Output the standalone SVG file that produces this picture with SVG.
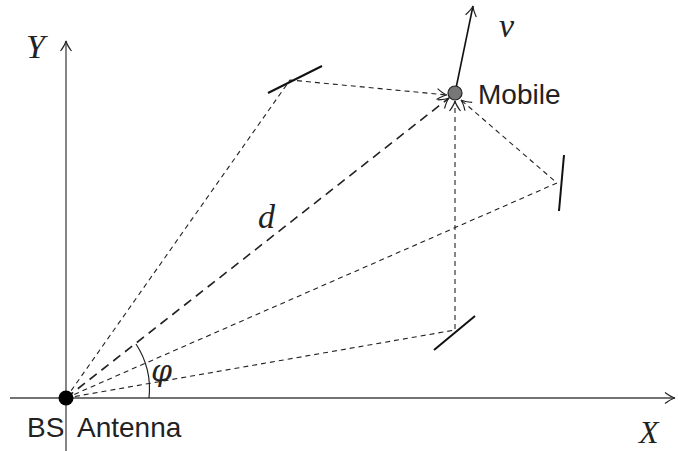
<svg xmlns="http://www.w3.org/2000/svg" width="678" height="451" viewBox="0 0 678 451">
<defs>
<marker id="arr" viewBox="-11 -7 13 14" refX="0" refY="0" markerWidth="13" markerHeight="14" markerUnits="userSpaceOnUse" orient="auto">
<path d="M-10,-5.5 Q-4,-1 0,0 Q-4,1 -10,5.5" fill="none" stroke="#222" stroke-width="1.2"/>
</marker>
</defs>
<style>
.axis{stroke:#444;stroke-width:1.3;fill:none}
.ray{stroke:#222;stroke-width:1.1;fill:none;stroke-dasharray:5 4}
.dray{stroke:#222;stroke-width:1.6;fill:none;stroke-dasharray:9 6}
.refl{stroke:#111;stroke-width:2;fill:none}
.it{font-family:"Liberation Serif",serif;font-style:italic;fill:#222}
.sf{font-family:"Liberation Sans","DejaVu Sans",sans-serif;fill:#222}
</style>
<g id="axes">
<line class="axis" x1="10" y1="398" x2="675" y2="398" marker-end="url(#arr)"/>
<line class="axis" x1="66" y1="451" x2="66" y2="41" marker-end="url(#arr)"/>
<text class="it" x="26" y="58" font-size="34">Y</text>
<text class="it" x="639" y="443" font-size="32">X</text>
</g>
<g id="connectors">
<line class="dray" x1="66" y1="398" x2="449" y2="98" marker-end="url(#arr)"/>
<polyline class="ray" points="66,398 290,80 447,95" marker-end="url(#arr)"/>
<polyline class="ray" points="66,398 557,183 461,100" marker-end="url(#arr)"/>
<polyline class="ray" points="66,398 455,330 455,101" marker-end="url(#arr)"/>
<path d="M149,398 A83,83 0 0 0 136,344" fill="none" stroke="#222" stroke-width="1.2"/>
<line x1="455" y1="93" x2="473" y2="6" stroke="#111" stroke-width="1.6" marker-end="url(#arr)"/>
</g>
<g id="reflector1"><line class="refl" x1="268" y1="93" x2="322" y2="66"/></g>
<g id="reflector2"><line class="refl" x1="564" y1="155" x2="559" y2="211"/></g>
<g id="reflector3"><line class="refl" x1="475" y1="316" x2="434" y2="350"/></g>
<g id="mobile">
<circle cx="455" cy="93" r="7" fill="#777" stroke="#222" stroke-width="1.2"/>
<text class="sf" x="478" y="104" font-size="28">Mobile</text>
<text class="it" x="499" y="37" font-size="34">v</text>
</g>
<g id="bs">
<circle cx="66" cy="398" r="7.5" fill="#000"/>
<text class="sf" x="27" y="437" font-size="28">BS</text>
<text class="sf" x="77" y="437" font-size="28">Antenna</text>
</g>
<g id="labels">
<text class="it" x="258" y="228" font-size="34">d</text>
<text x="151" y="381" font-size="30" font-style="italic" font-family="'DejaVu Serif',serif" fill="#222">φ</text>
</g>
</svg>
